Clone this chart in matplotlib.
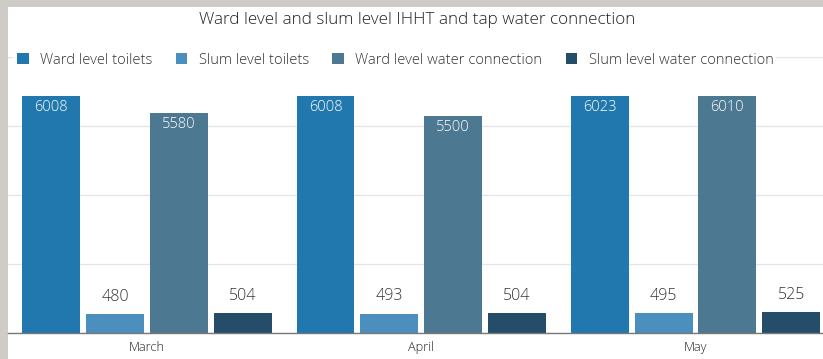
import matplotlib
matplotlib.use("Agg")
import matplotlib.pyplot as plt
import numpy as np
from matplotlib.patches import Rectangle

months = ["March", "April", "May"]
series_names = ["Ward level toilets", "Slum level toilets",
                "Ward level water connection", "Slum level water connection"]
ward_toilets = [6008, 6008, 6023]
slum_toilets = [480, 493, 495]
ward_water = [5580, 5500, 6010]
slum_water = [504, 504, 525]
colors = ["#2178ae", "#4b8fbf", "#4c7892", "#244d69"]

plt.rcParams["font.family"] = ["Open Sans", "DejaVu Sans"]
plt.rcParams["font.weight"] = "light"

fig = plt.figure(figsize=(8.23, 3.59), dpi=100)
fig.patch.set_facecolor("white")
# grey frame strips along the top and left edges
frame = "#cfcbc6"
fig.patches.append(Rectangle((0, 1 - 7 / 359), 1, 7 / 359, transform=fig.transFigure,
                             facecolor=frame, edgecolor="none", zorder=-1))
fig.patches.append(Rectangle((0, 0), 8 / 823, 1, transform=fig.transFigure,
                             facecolor=frame, edgecolor="none", zorder=-1))

ax = fig.add_axes([8 / 823, 26 / 359, 1 - 8 / 823, (333 - 57) / 359])
ax.set_facecolor("none")

x = np.arange(len(months))
step = 0.2327
width = 0.211
all_series = [ward_toilets, slum_toilets, ward_water, slum_water]
for i, (vals, name, c) in enumerate(zip(all_series, series_names, colors)):
    pos = x + (i - 1.5) * step
    bars = ax.bar(pos, vals, width=width, color=c, label=name, zorder=3)
    for b, v in zip(bars, vals):
        cx = b.get_x() + b.get_width() / 2
        if v > 2000:
            ax.annotate(f"{v}", (cx, v), xytext=(0, -8.5), textcoords="offset points",
                        ha="center", va="center", color="white", fontsize=10.5, zorder=4)
        else:
            ax.annotate(f"{v}", (cx, v), xytext=(0, 12.5), textcoords="offset points",
                        ha="center", va="center", color="#333333", fontsize=11.5, zorder=4)

ax.set_xlim(-0.507, 2.465)
ax.set_ylim(0, 7000)
ax.set_yticks(np.arange(0, 7001, 1750))
ax.yaxis.grid(True, color="#e4e4e4", linewidth=0.9, zorder=0)
ax.set_yticklabels([])
ax.tick_params(axis="y", length=0)
ax.set_xticks(x)
ax.set_xticklabels(months, fontsize=9.2, color="#222222")
ax.tick_params(axis="x", length=0, pad=6)
for s in ["top", "right", "left"]:
    ax.spines[s].set_visible(False)
ax.spines["bottom"].set_color("#777777")
ax.spines["bottom"].set_linewidth(1.0)
ax.spines["bottom"].set_zorder(5)

fig.text(0.507, 1 - 20 / 359, "Ward level and slum level IHHT and tap water connection",
         ha="center", va="center", fontsize=12.3, color="#222222")

leg = fig.legend(loc="center left", bbox_to_anchor=(14 / 823, 1 - 60 / 359), ncol=4,
                 frameon=True, fontsize=10.6, handlelength=0.8, handleheight=0.8,
                 handletextpad=0.75, columnspacing=1.6, borderpad=0.2,
                 borderaxespad=0)
leg.get_frame().set_facecolor("white")
leg.get_frame().set_edgecolor("none")
leg.get_frame().set_alpha(1)
for t in leg.get_texts():
    t.set_color("#333333")

fig.savefig("out.png", dpi=100, facecolor=fig.get_facecolor())
